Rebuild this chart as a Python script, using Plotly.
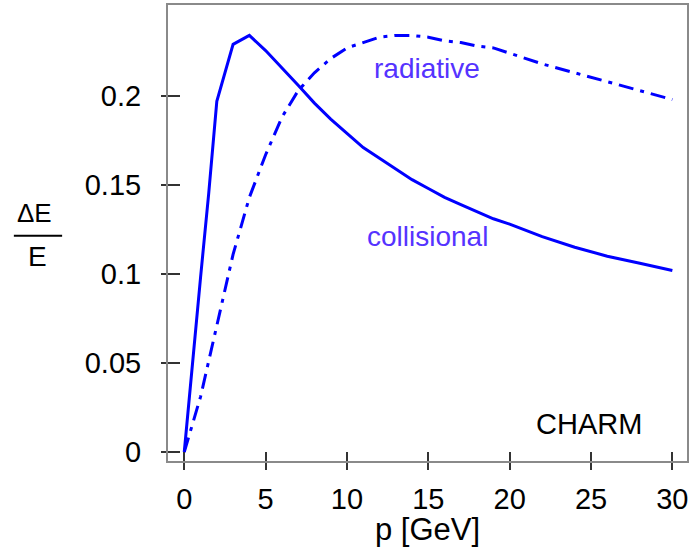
import plotly.graph_objects as go

# ---- data ----
p_coll = [0, 0.5, 1, 1.5, 2, 3, 4, 5, 6, 7, 8, 9, 10, 11, 12, 13, 14, 15, 16, 17, 18, 19, 20, 22, 24, 26, 28, 30]
coll = [0, 0.05, 0.098, 0.145, 0.197, 0.229, 0.234, 0.2255, 0.216, 0.206, 0.196, 0.187, 0.179, 0.171, 0.165,
        0.159, 0.153, 0.148, 0.143, 0.139, 0.135, 0.131, 0.128, 0.121, 0.115, 0.110, 0.106, 0.102]

p_rad = [0, 0.5, 1, 2, 3, 4, 5, 6, 7, 8, 9, 10, 11, 12, 13, 14, 15, 16, 17, 18, 19, 20, 22, 24, 26, 28, 30]
rad = [0, 0.015, 0.031, 0.071, 0.111, 0.143, 0.167, 0.188, 0.203, 0.213, 0.221, 0.227, 0.230, 0.233, 0.234, 0.234,
       0.233, 0.231, 0.230, 0.228, 0.227, 0.224, 0.218, 0.213, 0.208, 0.203, 0.198]

x_ticks = [0, 5, 10, 15, 20, 25, 30]
y_ticks = [0, 0.05, 0.1, 0.15, 0.2]
y_tick_text = ["0", "0.05", "0.1", "0.15", "0.2"]

FONT = "Arial, Liberation Sans, sans-serif"
BLUE = "#0000ff"
LABEL = "#5533ff"

fig = go.Figure()
fig.add_trace(go.Scatter(x=p_coll, y=coll, mode="lines", line=dict(color=BLUE, width=3),
                         showlegend=False, hoverinfo="skip"))
fig.add_trace(go.Scatter(x=p_rad, y=rad, mode="lines",
                         line=dict(color=BLUE, width=3, dash="15px,7px,4px,7px"),
                         showlegend=False, hoverinfo="skip"))
# empty trace on overlay axes (inner halves of the crossing ticks)
fig.add_trace(go.Scatter(x=[None], y=[None], xaxis="x2", yaxis="y2", showlegend=False, hoverinfo="skip"))

xr = [-1.0, 30.9]
yr = [-0.00506, 0.2511]

fig.update_layout(
    width=691, height=547,
    margin=dict(l=168, r=2, t=5, b=86),
    paper_bgcolor="white", plot_bgcolor="white",
    font=dict(family=FONT, color="black"),
    xaxis=dict(range=xr, tickvals=x_ticks, showgrid=False, zeroline=False,
               showline=True, linecolor="#8a8a8a", linewidth=2, mirror=True,
               ticks="outside", ticklen=7, tickwidth=2, tickcolor="#333333",
               tickfont=dict(size=29, family=FONT, color="black"), ticklabelstandoff=4,
               title=dict(text="p [GeV]", font=dict(size=31, family=FONT, color="black"), standoff=0)),
    yaxis=dict(range=yr, tickvals=y_ticks, ticktext=y_tick_text, showgrid=False, zeroline=False,
               showline=True, linecolor="#8a8a8a", linewidth=2, mirror=True,
               ticks="outside", ticklen=5, tickwidth=2, tickcolor="#333333",
               tickfont=dict(size=29, family=FONT, color="black"), ticklabelstandoff=14),
    xaxis2=dict(range=xr, tickvals=x_ticks, overlaying="x", anchor="y2", side="bottom",
                showgrid=False, zeroline=False, showline=False, showticklabels=False,
                ticks="inside", ticklen=9, tickwidth=2, tickcolor="#333333"),
    yaxis2=dict(range=yr, tickvals=y_ticks, overlaying="y", anchor="x2", side="left",
                showgrid=False, zeroline=False, showline=False, showticklabels=False,
                ticks="inside", ticklen=12, tickwidth=2, tickcolor="#333333"),
)

fig.add_annotation(x=14.9, y=0.2157, xref="x", yref="y", text="radiative", showarrow=False,
                   font=dict(size=28, family=FONT, color=LABEL))
fig.add_annotation(x=14.98, y=0.1208, xref="x", yref="y", text="collisional", showarrow=False,
                   font=dict(size=28, family=FONT, color=LABEL))
fig.add_annotation(x=24.9, y=0.016, xref="x", yref="y", text="CHARM", showarrow=False,
                   font=dict(size=29, family=FONT, color="black"))

# y-axis label as a fraction  ΔE / E
fig.add_annotation(x=-0.257, y=0.544, xref="paper", yref="paper", text="ΔE", showarrow=False,
                   xanchor="center", yanchor="middle",
                   font=dict(size=26, family=FONT, color="black"))
fig.add_annotation(x=-0.2514, y=0.448, xref="paper", yref="paper", text="E", showarrow=False,
                   xanchor="center", yanchor="middle",
                   font=dict(size=28, family=FONT, color="black"))
fig.add_shape(type="line", xref="paper", yref="paper", x0=-0.297, x1=-0.204, y0=0.494, y1=0.494,
              line=dict(color="black", width=2))

fig.write_html("out.html", config={"displayModeBar": False},
               post_script="document.body.style.margin='0';")
